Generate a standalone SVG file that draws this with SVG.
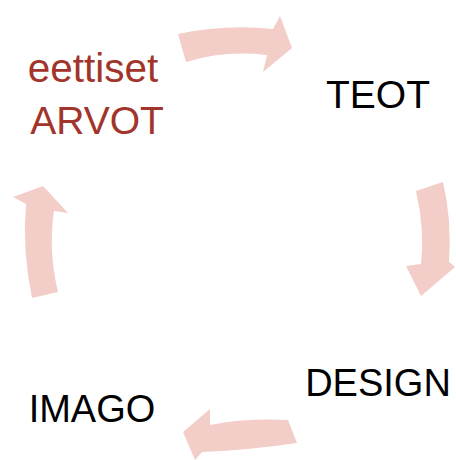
<svg xmlns="http://www.w3.org/2000/svg" width="456" height="460" viewBox="0 0 456 460">
  <style>
    .arrow { fill: #f3cdc8; stroke: none; }
    .label { font-family: "Liberation Sans", Arial, sans-serif; font-size: 38px; text-anchor: middle; fill: #000000; }
    .accent { fill: #a2352b; }
  </style>
  <rect width="456" height="460" fill="#ffffff"/>
  <!-- curved cycle arrows -->
  <g id="connectors">
    <path class="arrow" d="M178,34 Q225,24 273,29 L280,16 L292,48 L263,72 L267,55 Q225,50 186,62 Z"/>
    <path class="arrow" d="M416,191 Q425,230 421,264 L406,266 L421,296 L455,267 L449,262 Q452,220 443,182 Z"/>
    <path class="arrow" d="M288,420 Q245,418 210,425 L210,409 L183,432 L195,460 L202,452 Q250,450 297,443 Z"/>
    <path class="arrow" d="M32,298 Q22,250 26,204 L13,197 L43,186 L68,213 L54,211 Q48,250 58,292 Z"/>
  </g>
  <g id="node-arvot">
    <text class="label accent" x="93" y="82" style="font-size:40.5px">eettiset</text>
    <text class="label accent" x="97" y="134" style="font-size:39px">ARVOT</text>
  </g>
  <g id="node-teot">
    <text class="label" x="378" y="108" style="font-size:39px">TEOT</text>
  </g>
  <g id="node-design">
    <text class="label" x="378" y="396">DESIGN</text>
  </g>
  <g id="node-imago">
    <text class="label" x="92" y="422">IMAGO</text>
  </g>
</svg>
